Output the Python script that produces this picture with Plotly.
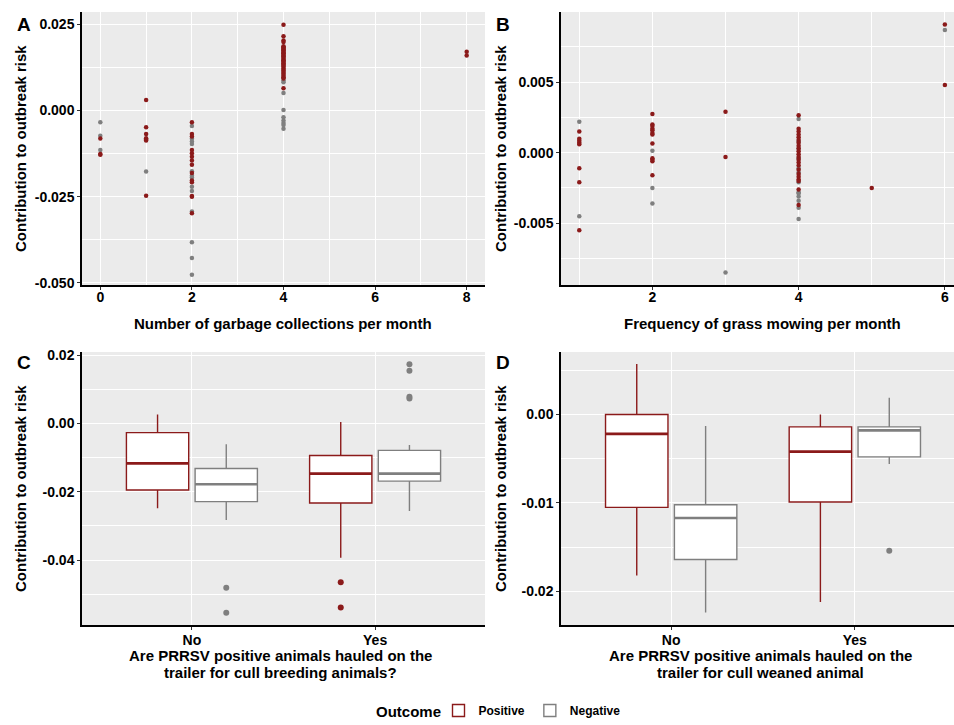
import plotly.graph_objects as go

W, H = 954, 725

# Panel A: garbage collections per month vs contribution
a_pos_x = [0, 0, 0,
           1, 1, 1, 1, 1, 1, 1,
           2, 2, 2, 2, 2, 2, 2, 2, 2, 2, 2, 2, 2, 2,
           4, 4, 4, 4, 4, 4, 4, 4, 4, 4, 4, 4, 4, 4, 4, 4, 4, 4, 4, 4, 4, 4, 4, 4, 4, 4, 4, 4, 4, 4, 4, 4, 4,
           8, 8]
a_pos_y = [-0.0081, -0.0126, -0.0128,
           0.0031, -0.0048, -0.0068, -0.0080, -0.0084, -0.0087, -0.0247,
           -0.0034, -0.0068, -0.0075, -0.0114, -0.0124, -0.0134, -0.0145, -0.0157, -0.0181, -0.0203,
           -0.0208, -0.0248, -0.0250, -0.0298,
           0.0249, 0.0216, 0.0203, 0.0199, 0.0187, 0.0184, 0.0180, 0.0177, 0.0175, 0.0171, 0.0168,
           0.0166, 0.0162, 0.0159, 0.0157, 0.0153, 0.0150, 0.0146, 0.0144, 0.0141, 0.0137, 0.0134,
           0.0130, 0.0127, 0.0122, 0.0118, 0.0115, 0.0110, 0.0106, 0.0101, 0.0097, 0.0093, 0.0065,
           0.0171, 0.0160]
a_neg_x = [0, 0, 0,
           1,
           2, 2, 2, 2, 2, 2, 2, 2, 2, 2, 2, 2, 2,
           4, 4, 4, 4, 4, 4, 4, 4, 4]
a_neg_y = [-0.0034, -0.0073, -0.0114,
           -0.0177,
           -0.0045, -0.0082, -0.0090, -0.0097, -0.0176, -0.0189, -0.0194, -0.0221, -0.0233, -0.0293,
           -0.0382, -0.0428, -0.0476,
           0.0087, 0.0082, 0.0051, 0.0002, -0.0019, -0.0029, -0.0036, -0.0042, -0.0053]

# Panel B: grass mowing per month vs contribution
b_pos_x = [1, 1, 1, 1, 1, 1, 1, 1,
           2, 2, 2, 2, 2, 2, 2, 2, 2, 2, 2, 2,
           3, 3,
           4, 4, 4, 4, 4, 4, 4, 4, 4, 4, 4, 4, 4, 4, 4, 4, 4, 4, 4, 4, 4, 4,
           5,
           6, 6]
b_pos_y = [0.0015, 0.0010, 0.00085, 0.0007, 0.0006, -0.0011, -0.0021, -0.0055,
           0.00275, 0.0020, 0.0019, 0.0017, 0.0016, 0.0014, 0.0013, 0.00066, -0.0004, -0.0005, -0.0006, -0.0016,
           0.0029, -0.0003,
           0.00265, 0.0017, 0.0015, 0.0013, 0.0011, 0.0009, 0.0007, 0.0005, 0.0003, 0.0001, -0.0001,
           -0.0003, -0.0005, -0.0007, -0.0009, -0.0012, -0.0015, -0.0017, -0.0019, -0.0020, -0.0026, -0.0037,
           -0.0025,
           0.0091, 0.0048]
b_neg_x = [1, 1,
           2, 2, 2,
           3,
           4, 4, 4, 4, 4, 4, 4, 4, 4, 4, 4, 4, 4,
           6]
b_neg_y = [0.0022, -0.0045,
           0.00014, -0.0025, -0.0036,
           -0.0085,
           0.0024, 0.0008, 0.0003, -0.0004, -0.0011, -0.0014, -0.0021, -0.0028, -0.0029, -0.0031,
           -0.0034, -0.0039, -0.0047,
           0.0087]

# Panel C: cull breeding animals (box statistics)
cats = ["No", "Yes"]
c_pos_q1 = [-0.0195, -0.0233]
c_pos_med = [-0.0117, -0.0147]
c_pos_q3 = [-0.0027, -0.0094]
c_pos_lo = [-0.0248, -0.0393]
c_pos_hi = [0.0026, 0.0004]
c_neg_q1 = [-0.0229, -0.0169]
c_neg_med = [-0.0178, -0.0147]
c_neg_q3 = [-0.0132, -0.0079]
c_neg_lo = [-0.0283, -0.0256]
c_neg_hi = [-0.0061, -0.0063]
c_pos_out_cat = ["Yes", "Yes"]
c_pos_out = [-0.0465, -0.0539]
c_neg_out_cat = ["No", "No", "Yes", "Yes", "Yes", "Yes"]
c_neg_out = [-0.0481, -0.0554, 0.0173, 0.0154, 0.0078, 0.0073]

# Panel D: cull weaned animal (box statistics)
d_pos_q1 = [-0.0105, -0.0099]
d_pos_med = [-0.0022, -0.0042]
d_pos_q3 = [0.0000, -0.0014]
d_pos_lo = [-0.0182, -0.0212]
d_pos_hi = [0.0057, 0.0000]
d_neg_q1 = [-0.0164, -0.0048]
d_neg_med = [-0.0117, -0.0018]
d_neg_q3 = [-0.0102, -0.0014]
d_neg_lo = [-0.0224, -0.0056]
d_neg_hi = [-0.0013, 0.0019]
d_pos_out_cat = []
d_pos_out = []
d_neg_out_cat = ["Yes"]
d_neg_out = [-0.0154]

# tick labels (ggplot style hyphen minus)
a_yticks = [0.025, 0.0, -0.025, -0.05]
a_ylabels = ["0.025", "0.000", "-0.025", "-0.050"]
b_yticks = [0.005, 0.0, -0.005]
b_ylabels = ["0.005", "0.000", "-0.005"]
c_yticks = [0.02, 0.0, -0.02, -0.04]
c_ylabels = ["0.02", "0.00", "-0.02", "-0.04"]
d_yticks = [0.0, -0.01, -0.02]
d_ylabels = ["0.00", "-0.01", "-0.02"]

RED = "#8B1A1A"
GREY = "#7F7F7F"
FONT = "Liberation Sans, Arial, sans-serif"


def fx(px):
    return px / W


def fy(py):
    return 1 - py / H


fig = go.Figure()

# scatter panels (negative drawn first, positive on top)
for xs, ys, col, ax in [(a_neg_x, a_neg_y, GREY, ""), (a_pos_x, a_pos_y, RED, ""),
                        (b_neg_x, b_neg_y, GREY, "2"), (b_pos_x, b_pos_y, RED, "2")]:
    fig.add_trace(go.Scatter(
        x=xs, y=ys, mode="markers",
        marker=dict(color=col, size=4.5, line=dict(width=0)),
        xaxis="x" + ax, yaxis="y" + ax,
        showlegend=False, hoverinfo="skip"))

# box panels
OFF = 0.1875
BW = 0.34
pos_idx = {c: i for i, c in enumerate(cats)}

boxes = [
    ("3", "Positive", RED, -OFF, c_pos_q1, c_pos_med, c_pos_q3, c_pos_lo, c_pos_hi, c_pos_out_cat, c_pos_out, True),
    ("3", "Negative", GREY, OFF, c_neg_q1, c_neg_med, c_neg_q3, c_neg_lo, c_neg_hi, c_neg_out_cat, c_neg_out, True),
    ("4", "Positive", RED, -OFF, d_pos_q1, d_pos_med, d_pos_q3, d_pos_lo, d_pos_hi, d_pos_out_cat, d_pos_out, False),
    ("4", "Negative", GREY, OFF, d_neg_q1, d_neg_med, d_neg_q3, d_neg_lo, d_neg_hi, d_neg_out_cat, d_neg_out, False),
]
for ax, name, col, off, q1, med, q3, lo, hi, ocat, oval, leg in boxes:
    xpos = [pos_idx[c] + off for c in cats]
    fig.add_trace(go.Box(
        x=xpos,
        q1=q1, median=med, q3=q3, lowerfence=lo, upperfence=hi,
        width=BW, whiskerwidth=0, boxpoints=False,
        fillcolor="white", line=dict(color=col, width=1.4),
        name=name, legendgroup=name, showlegend=leg,
        xaxis="x" + ax, yaxis="y" + ax, hoverinfo="skip"))
    # thicker median line like ggplot
    mx, my = [], []
    for xp, m in zip(xpos, med):
        mx += [xp - BW / 2, xp + BW / 2, None]
        my += [m, m, None]
    fig.add_trace(go.Scatter(x=mx, y=my, mode="lines", line=dict(color=col, width=2.6),
                             xaxis="x" + ax, yaxis="y" + ax, showlegend=False, hoverinfo="skip"))
    if oval:
        fig.add_trace(go.Scatter(
            x=[pos_idx[c] + off for c in ocat], y=oval, mode="markers",
            marker=dict(color=col, size=6),
            xaxis="x" + ax, yaxis="y" + ax, showlegend=False, hoverinfo="skip"))

axis_style = dict(
    showline=True, linecolor="black", linewidth=1.5, mirror=False,
    ticks="outside", ticklen=3, tickcolor="#333333", tickwidth=1,
    showgrid=True, gridcolor="white", gridwidth=1.1, zeroline=False,
    tickfont=dict(family=FONT, size=14, color="black", weight="bold"),
    automargin=False, fixedrange=True,
)
minor_style = dict(showgrid=True, gridcolor="white", gridwidth=0.5, ticks="", tick0=0)

top_dom = [fy(285), fy(12)]
bot_dom = [fy(625), fy(352)]
left_dom = [fx(82), fx(485)]
right_dom = [fx(561), 1.0]

fig.update_layout(
    xaxis=dict(axis_style, domain=left_dom, anchor="y", range=[-0.4, 8.4],
               tickvals=[0, 2, 4, 6, 8], ticklabelstandoff=-5,
               minor=dict(minor_style, dtick=1)),
    yaxis=dict(axis_style, domain=top_dom, anchor="x", range=[-0.0506, 0.0286],
               tickvals=a_yticks, ticktext=a_ylabels,
               minor=dict(minor_style, dtick=0.0125)),
    xaxis2=dict(axis_style, domain=right_dom, anchor="y2", range=[0.75, 6.125],
                tickvals=[2, 4, 6], ticklabelstandoff=-5,
                minor=dict(minor_style, dtick=1)),
    yaxis2=dict(axis_style, domain=top_dom, anchor="x2", range=[-0.00938, 0.00998],
                tickvals=b_yticks, ticktext=b_ylabels,
                minor=dict(minor_style, dtick=0.0025)),
    xaxis3=dict(axis_style, domain=left_dom, anchor="y3", range=[-0.6, 1.6],
                tickvals=list(range(len(cats))), ticktext=cats, ticklabelstandoff=-2),
    yaxis3=dict(axis_style, domain=bot_dom, anchor="x3", range=[-0.0590, 0.0209],
                tickvals=c_yticks, ticktext=c_ylabels,
                minor=dict(minor_style, dtick=0.01)),
    xaxis4=dict(axis_style, domain=right_dom, anchor="y4", range=[-0.6, 1.54],
                tickvals=list(range(len(cats))), ticktext=cats, ticklabelstandoff=-2),
    yaxis4=dict(axis_style, domain=bot_dom, anchor="x4", range=[-0.0238, 0.00706],
                tickvals=d_yticks, ticktext=d_ylabels,
                minor=dict(minor_style, dtick=0.005)),
)

# panel backgrounds
for x0, x1, y0, y1 in [(left_dom[0], left_dom[1], top_dom[0], top_dom[1]),
                       (right_dom[0], right_dom[1], top_dom[0], top_dom[1]),
                       (left_dom[0], left_dom[1], bot_dom[0], bot_dom[1]),
                       (right_dom[0], right_dom[1], bot_dom[0], bot_dom[1])]:
    fig.add_shape(type="rect", xref="paper", yref="paper", x0=x0, x1=x1, y0=y0, y1=y1,
                  fillcolor="#EBEBEB", line=dict(width=0), layer="below")

title_font = dict(family=FONT, size=15, color="black", weight="bold")
annots = [
    ("Contribution to outbreak risk", 20, 149, -90),
    ("Contribution to outbreak risk", 500, 149, -90),
    ("Contribution to outbreak risk", 20, 489, -90),
    ("Contribution to outbreak risk", 500, 489, -90),
    ("Number of garbage collections per month", 283, 323, 0),
    ("Frequency of grass mowing per month", 762, 323, 0),
    ("Are PRRSV positive animals hauled on the", 280, 655, 0),
    ("trailer for cull breeding animals?", 280, 672, 0),
    ("Are PRRSV positive animals hauled on the", 760, 655, 0),
    ("trailer for cull weaned animal", 760, 672, 0),
    ("Outcome", 408, 711, 0),
]
for text, px, py, ang in annots:
    fig.add_annotation(text=text, x=fx(px), y=fy(py), xref="paper", yref="paper",
                       showarrow=False, textangle=ang, font=title_font,
                       xanchor="center", yanchor="middle")

for letter, px, py in [("A", 24, 24), ("B", 503, 24), ("C", 24, 362), ("D", 503, 362)]:
    fig.add_annotation(text=letter, x=fx(px), y=fy(py), xref="paper", yref="paper",
                       showarrow=False, font=dict(family=FONT, size=19, color="black", weight="bold"),
                       xanchor="center", yanchor="middle")

fig.update_layout(
    width=W, height=H,
    margin=dict(l=0, r=0, t=0, b=0),
    plot_bgcolor="rgba(0,0,0,0)",
    paper_bgcolor="white",
    legend=dict(orientation="h", x=fx(532), xanchor="center", y=0, yanchor="bottom",
                font=dict(family=FONT, size=12, color="black", weight="bold"),
                itemwidth=30, tracegroupgap=0),
)

fig.write_html("out.html", config={"displayModeBar": False},
               post_script="document.body.style.margin='0';"
                           "document.documentElement.style.overflow='hidden';")
